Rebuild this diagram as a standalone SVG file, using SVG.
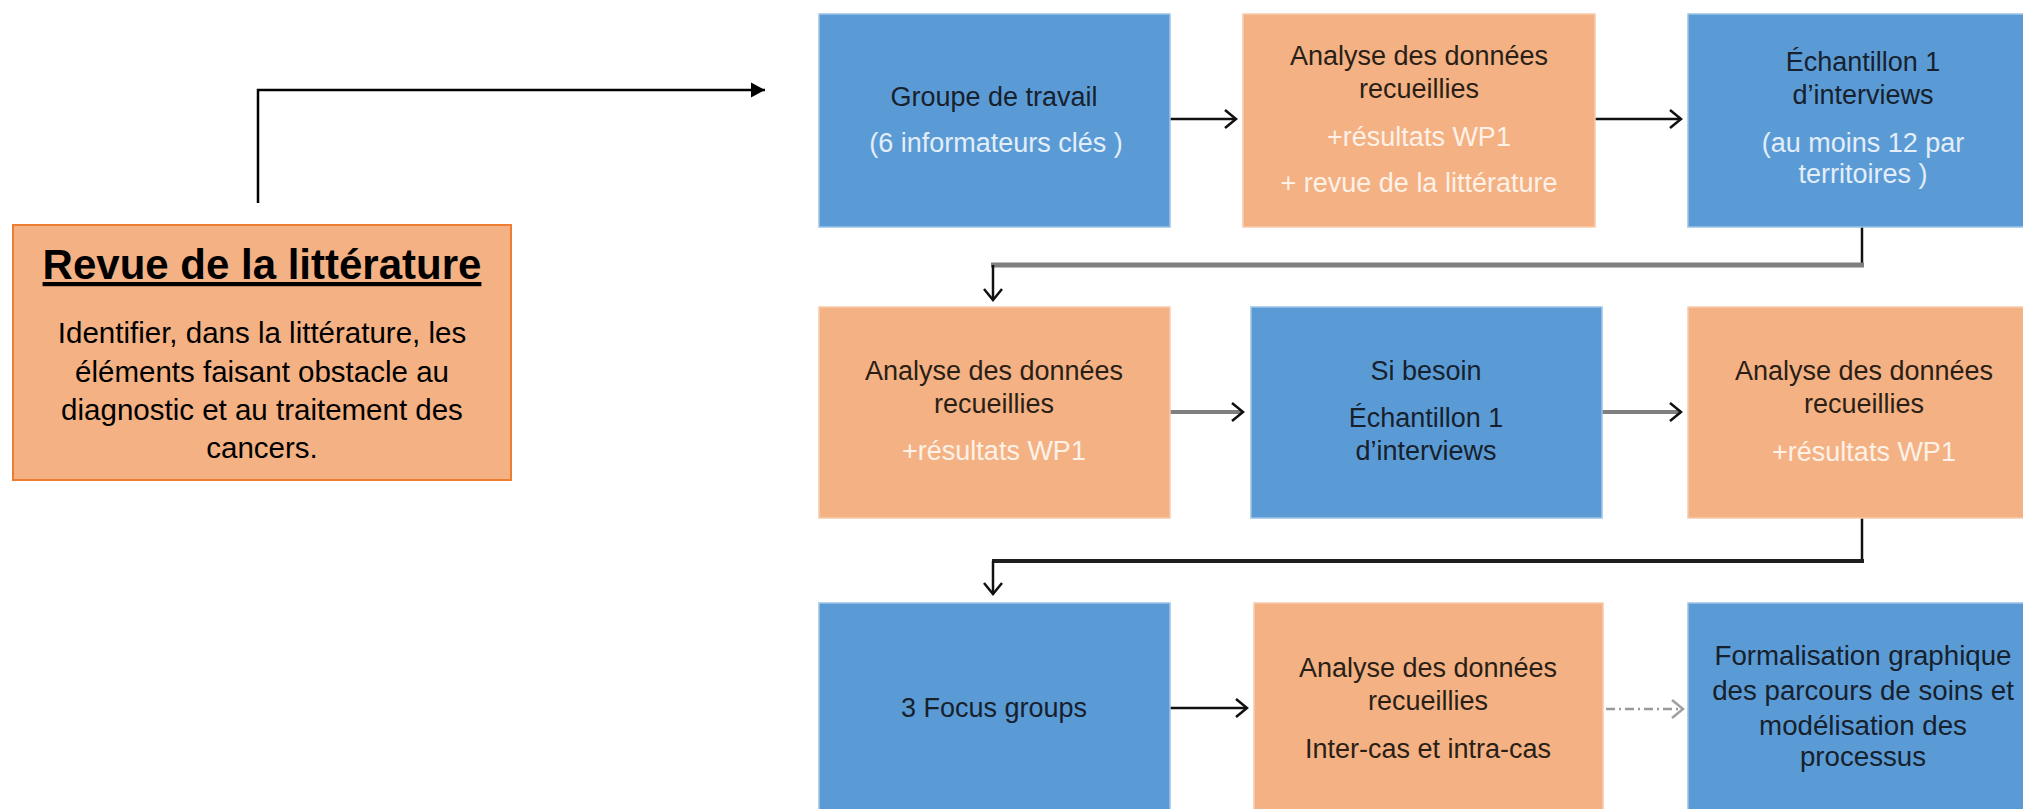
<svg xmlns="http://www.w3.org/2000/svg" width="2023" height="809" viewBox="0 0 2023 809">
<defs>
<style>
text{font-family:"Liberation Sans",Arial,sans-serif;text-anchor:middle}
.blue{fill:#5B9BD5;stroke:#9DC3E6;stroke-width:1.5}
.orange{fill:#F4B183;stroke:#F8CBAD;stroke-width:1.5}
.t{font-size:27px}
.tl{font-size:27.7px}
.db{fill:#17212d}
.do{fill:#2a1f17}
.lb{fill:#E3EEF9}
.lo{fill:#FDF1E8}
.ln{fill:none;stroke-linecap:butt}
</style>
<marker id="chev" markerUnits="userSpaceOnUse" markerWidth="18" markerHeight="24" viewBox="0 0 18 24" refX="14" refY="12" orient="auto">
<path d="M3,3 L14,12 L3,21" fill="none" stroke="#111" stroke-width="2.5"/>
</marker>
<marker id="chevg" markerUnits="userSpaceOnUse" markerWidth="18" markerHeight="24" viewBox="0 0 18 24" refX="14" refY="12" orient="auto">
<path d="M3,3 L14,12 L3,21" fill="none" stroke="#a0a0a0" stroke-width="2.5"/>
</marker>
<marker id="tri" markerUnits="userSpaceOnUse" markerWidth="16" markerHeight="16" viewBox="0 0 16 16" refX="14" refY="8" orient="auto">
<path d="M0,0.5 L14,8 L0,15.5 z" fill="#000"/>
</marker>
</defs>
<rect width="2023" height="809" fill="#fff"/>

<g id="connectors">
<path class="ln" d="M258,203 V90 H765" stroke="#000" stroke-width="2.5" marker-end="url(#tri)"/>
<path class="ln" d="M1170,119 H1236" stroke="#111" stroke-width="2.5" marker-end="url(#chev)"/>
<path class="ln" d="M1595,119 H1681" stroke="#111" stroke-width="2.5" marker-end="url(#chev)"/>
<path class="ln" d="M1862,227 V263" stroke="#111" stroke-width="2.5"/>
<path class="ln" d="M1864,265 H991" stroke="#7F7F7F" stroke-width="5"/>
<path class="ln" d="M993,265 V300" stroke="#111" stroke-width="2.5" marker-end="url(#chev)"/>
<path class="ln" d="M1170,412 H1243" stroke="#7F7F7F" stroke-width="4" marker-end="url(#chev)"/>
<path class="ln" d="M1602,412 H1681" stroke="#7F7F7F" stroke-width="4" marker-end="url(#chev)"/>
<path class="ln" d="M1862,518 V560" stroke="#111" stroke-width="2.5"/>
<path class="ln" d="M1864,561 H992" stroke="#1f1f1f" stroke-width="4"/>
<path class="ln" d="M993,561 V594" stroke="#111" stroke-width="2.5" marker-end="url(#chev)"/>
<path class="ln" d="M1170,708 H1247" stroke="#111" stroke-width="2.5" marker-end="url(#chev)"/>
<path class="ln" d="M1606,709 H1683" stroke="#9a9a9a" stroke-width="2.5" stroke-dasharray="9,4,2,4" marker-end="url(#chevg)"/>
</g>

<g id="revue">
<rect x="13" y="225" width="498" height="255" fill="#F4B183" stroke="#ED7D31" stroke-width="2"/>
<text x="262" y="279" font-size="42" font-weight="bold" fill="#000" text-decoration="underline">Revue de la littérature</text>
<text x="262" y="343" font-size="29.5" fill="#000">Identifier, dans la littérature, les</text>
<text x="262" y="382" font-size="29.5" fill="#000">éléments faisant obstacle au</text>
<text x="262" y="420" font-size="29.5" fill="#000">diagnostic et au traitement des</text>
<text x="262" y="458" font-size="29.5" fill="#000">cancers.</text>
</g>

<g id="groupe">
<rect class="blue" x="819" y="14" width="351" height="213"/>
<text class="t db" x="994" y="106">Groupe de travail</text>
<text class="t lb" x="996" y="152">(6 informateurs clés )</text>
</g>

<g id="analyse1">
<rect class="orange" x="1243" y="14" width="352" height="213"/>
<text class="t do" x="1419" y="65">Analyse des données</text>
<text class="t do" x="1419" y="98">recueillies</text>
<text class="t lo" x="1419" y="146">+résultats WP1</text>
<text class="t lo" x="1419" y="192">+ revue de la littérature</text>
</g>

<g id="echantillon1">
<rect class="blue" x="1688" y="14" width="352" height="213"/>
<text class="t db" x="1863" y="71">Échantillon 1</text>
<text class="t db" x="1863" y="104">d’interviews</text>
<text class="t lb" x="1863" y="152">(au moins 12 par</text>
<text class="t lb" x="1863" y="183">territoires )</text>
</g>

<g id="analyse2">
<rect class="orange" x="819" y="307" width="351" height="211"/>
<text class="t do" x="994" y="380">Analyse des données</text>
<text class="t do" x="994" y="413">recueillies</text>
<text class="t lo" x="994" y="460">+résultats WP1</text>
</g>

<g id="sibesoin">
<rect class="blue" x="1251" y="307" width="351" height="211"/>
<text class="t db" x="1426" y="380">Si besoin</text>
<text class="t db" x="1426" y="427">Échantillon 1</text>
<text class="t db" x="1426" y="460">d’interviews</text>
</g>

<g id="analyse3">
<rect class="orange" x="1688" y="307" width="352" height="211"/>
<text class="t do" x="1864" y="380">Analyse des données</text>
<text class="t do" x="1864" y="413">recueillies</text>
<text class="t lo" x="1864" y="461">+résultats WP1</text>
</g>

<g id="focus">
<rect class="blue" x="819" y="603" width="351" height="213"/>
<text class="t db" x="994" y="717">3 Focus groups</text>
</g>

<g id="analyse4">
<rect class="orange" x="1254" y="603" width="349" height="213"/>
<text class="t do" x="1428" y="677">Analyse des données</text>
<text class="t do" x="1428" y="710">recueillies</text>
<text class="t do" x="1428" y="758">Inter-cas et intra-cas</text>
</g>

<g id="formalisation">
<rect class="blue" x="1688" y="603" width="352" height="213"/>
<text class="tl db" x="1863" y="665">Formalisation graphique</text>
<text class="tl db" x="1863" y="700">des parcours de soins et</text>
<text class="tl db" x="1863" y="735">modélisation des</text>
<text class="tl db" x="1863" y="766">processus</text>
</g>
</svg>
